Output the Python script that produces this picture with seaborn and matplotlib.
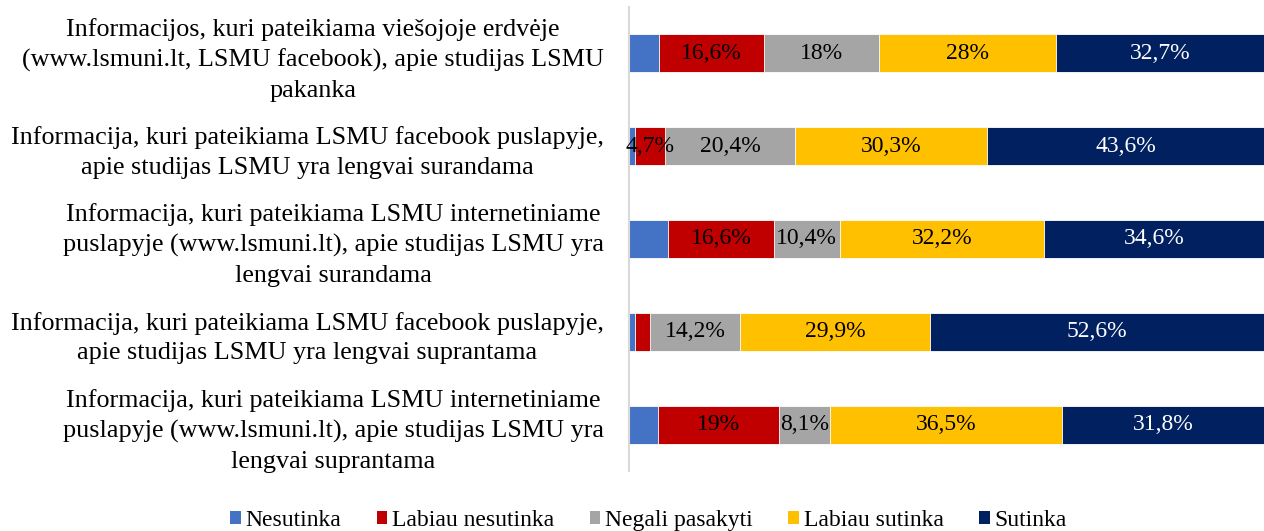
import numpy as np
import pandas as pd
import matplotlib
matplotlib.use("Agg")
import matplotlib.pyplot as plt
from matplotlib.patches import Patch
import seaborn as sns

# statements (top to bottom)
statements = [
    "Informacijos, kuri pateikiama viešojoje erdvėje\n(www.lsmuni.lt, LSMU facebook), apie studijas LSMU\npakanka",
    "Informacija, kuri pateikiama LSMU facebook puslapyje,\napie studijas LSMU yra lengvai surandama",
    "Informacija, kuri pateikiama LSMU internetiniame\npuslapyje (www.lsmuni.lt), apie studijas LSMU yra\nlengvai surandama",
    "Informacija, kuri pateikiama LSMU facebook puslapyje,\napie studijas LSMU yra lengvai suprantama",
    "Informacija, kuri pateikiama LSMU internetiniame\npuslapyje (www.lsmuni.lt), apie studijas LSMU yra\nlengvai suprantama",
]

answers = ["Nesutinka", "Labiau nesutinka", "Negali pasakyti", "Labiau sutinka", "Sutinka"]
colors = ["#4472C4", "#C00000", "#A5A5A5", "#FFC000", "#002060"]

nesutinka = [4.7, 1.0, 6.2, 1.0, 4.6]
labiau_nesutinka = [16.6, 4.7, 16.6, 2.3, 19.0]
negali = [18.0, 20.4, 10.4, 14.2, 8.1]
labiau_sutinka = [28.0, 30.3, 32.2, 29.9, 36.5]
sutinka = [32.7, 43.6, 34.6, 52.6, 31.8]

series = [nesutinka, labiau_nesutinka, negali, labiau_sutinka, sutinka]

sns.set_theme(style="white")
plt.rcParams["font.family"] = ["Liberation Serif", "DejaVu Serif"]
plt.rcParams["text.color"] = "black"
plt.rcParams["ytick.color"] = "black"

fig = plt.figure(figsize=(12.64, 5.31), dpi=100)
ax = fig.add_axes([0.4976, 0.113, 0.5024, 0.874])

vals = np.array(series)  # shape (answers, rows)
cum = vals.cumsum(axis=0)

# draw cumulative bars from the longest down so each segment shows
for i in range(len(answers) - 1, -1, -1):
    df = pd.DataFrame({"statement": statements, "value": cum[i]})
    sns.barplot(data=df, x="value", y="statement", color=colors[i],
                saturation=1, width=0.41, edgecolor="white", linewidth=0.6,
                ax=ax, orient="h")

# value labels
for i in range(1, len(answers)):
    for r in range(len(statements)):
        v = vals[i, r]
        if v < 4:
            continue
        center = cum[i, r] - v / 2
        txt = f"{v:g}".replace(".", ",") + "%"
        ax.text(center, r, txt, ha="center", va="center", fontsize=17,
                color="white" if i == 4 else "black")

ax.set_xlim(0, 100)
ax.set_ylim(4.5, -0.5)
ax.set_xlabel("")
ax.set_ylabel("")
ax.set_xticks([])
ax.tick_params(axis="y", length=0, pad=18)
ax.set_yticklabels(statements, fontsize=18.8, linespacing=1.45, ha="right",
                   multialignment="center", color="black")
for s in ["top", "right", "bottom"]:
    ax.spines[s].set_visible(False)
ax.spines["left"].set_color("#D9D9D9")
ax.spines["left"].set_linewidth(1.5)

handles = [Patch(facecolor=c, edgecolor="none") for c in colors]
fig.legend(handles, answers, loc="center", bbox_to_anchor=(0.513, 0.02),
           ncol=5, frameon=False, fontsize=17, handlelength=0.45,
           handleheight=0.45, handletextpad=0.2, columnspacing=1.5)

fig.savefig("out.png", dpi=100)
